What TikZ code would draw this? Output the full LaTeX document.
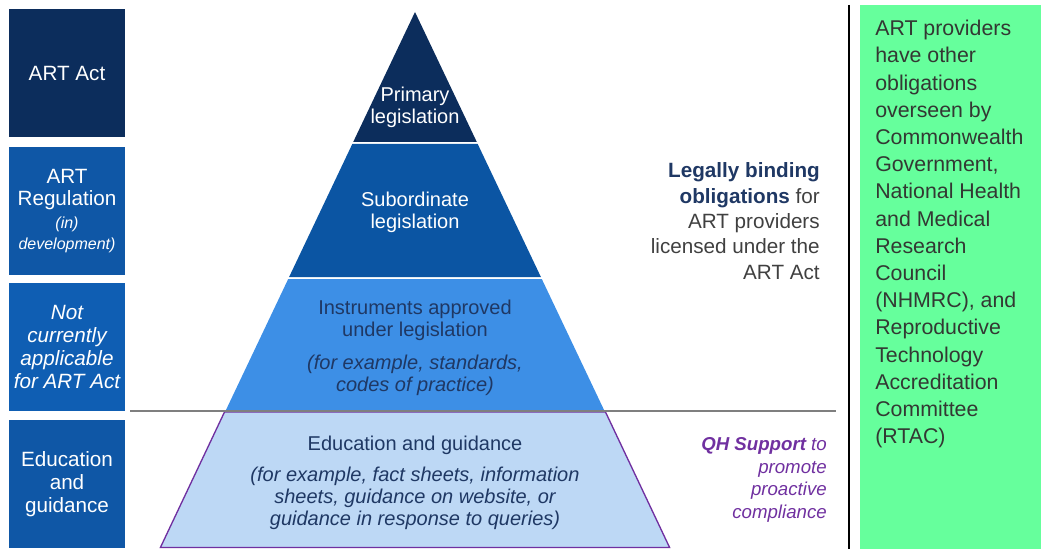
\documentclass[tikz,border=0pt]{standalone}
\usepackage{fontspec}
\setmainfont{Liberation Sans}
\definecolor{navy}{HTML}{0C2D5C}
\definecolor{midblue}{HTML}{0B55A3}
\definecolor{boxblue}{HTML}{0F57A6}
\definecolor{boxblueb}{HTML}{0F5EB3}
\definecolor{brightblue}{HTML}{3D8FE6}
\definecolor{paleblue}{HTML}{BDD8F5}
\definecolor{txtnavy}{HTML}{1F3864}
\definecolor{txtgray}{HTML}{404040}
\definecolor{qhpurple}{HTML}{7030A0}
\definecolor{mint}{HTML}{66FF9C}
\definecolor{minttext}{HTML}{333833}
\definecolor{rulegray}{HTML}{7F7F7F}
\tikzset{
  lbox/.style={rectangle, minimum width=87pt, minimum height=95.5pt, inner sep=0pt,
    text=white, align=center, font=\fontsize{15.5}{17}\selectfont},
  ptext/.style={align=center, inner sep=0pt, font=\fontsize{15}{16.5}\selectfont},
  sidetext/.style={align=right, inner sep=0pt},
}
\begin{document}
\begin{tikzpicture}[x=0.75pt,y=-0.75pt]
\useasboundingbox (0,0) rectangle (1041,549);
% left boxes
\node[lbox, fill=navy] (b1) at (67,73) {ART Act};
\node[lbox, fill=boxblue] (b2) at (67,211) {ART\\Regulation\\[0pt]{\fontsize{12}{12.5}\selectfont\itshape (in)}\\[-1pt]{\fontsize{12}{12.5}\selectfont\itshape development)}};
\node[lbox, fill=boxblueb, font=\fontsize{15.5}{17.3}\selectfont\itshape] (b3) at (67,347) {Not\\currently\\applicable\\for ART Act};
\node[lbox, fill=boxblue] (b4) at (67,484) {Education\\and\\guidance};
% pyramid
\fill[navy] (415,12) -- (476.8,142) -- (353.2,142) -- cycle;
\fill[midblue] (352.3,144) -- (477.7,144) -- (540.9,277) -- (289.1,277) -- cycle;
\fill[brightblue] (288.2,279) -- (541.8,279) -- (605,412) -- (225,412) -- cycle;
\filldraw[fill=paleblue, draw=qhpurple, line width=1pt] (224.5,412) -- (605.5,412) -- (669.6,547.5) -- (160.4,547.5) -- cycle;
% separator lines
\coordinate (hl) at (130,411);
\coordinate (hr) at (836,411);
\draw[rulegray, line width=1.1pt] (hl) -- (hr);
\coordinate (vt) at (849,5);
\coordinate (vb) at (849,549);
\draw[black, line width=1.5pt] (vt) -- (vb);
% pyramid texts
\node[ptext, text=white] (p1) at (415,107) {Primary\\legislation};
\node[ptext, text=white] (p2) at (415,212) {Subordinate\\legislation};
\node[ptext, text=txtnavy] (p3) at (415,348) {Instruments approved\\under legislation\\[8pt]\itshape (for example, standards,\\\itshape codes of practice)};
\node[ptext, text=txtnavy] (p4) at (415,483) {Education and guidance\\[7pt]\itshape (for example, fact sheets, information\\\itshape sheets, guidance on website, or\\\itshape guidance in response to queries)};
% side texts
\node[sidetext, anchor=east, text=txtgray, font=\fontsize{15.5}{19}\selectfont] (lb) at (820,221) {\textcolor{txtnavy}{\bfseries Legally binding}\\\textcolor{txtnavy}{\bfseries obligations} for\\ART providers\\licensed under the\\ART Act};
\node[sidetext, anchor=east, text=qhpurple, font=\fontsize{14}{17}\selectfont\itshape] (qh) at (827,480) {{\bfseries QH Support} to\\promote\\proactive\\compliance};
% green box
\node[rectangle, fill=mint, minimum width=135.75pt, minimum height=408pt, inner sep=0pt, anchor=north west] (gb) at (860,5) {};
\node[align=left, inner sep=0pt, anchor=north west, text=minttext, font=\fontsize{16}{20.4}\selectfont] (gt) at (875,20) {ART providers\\have other\\obligations\\overseen by\\Commonwealth\\Government,\\National Health\\and Medical\\Research\\Council\\(NHMRC), and\\Reproductive\\Technology\\Accreditation\\Committee\\(RTAC)};
\end{tikzpicture}
\end{document}
